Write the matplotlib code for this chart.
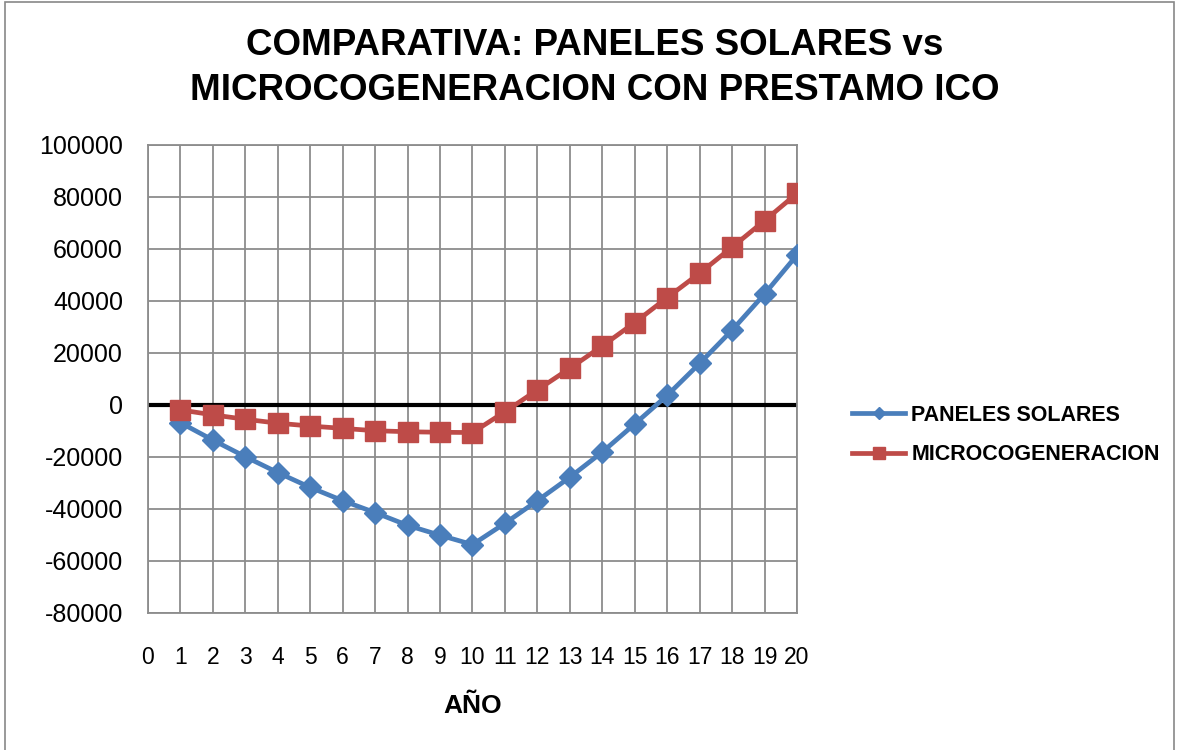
import matplotlib
matplotlib.use("Agg")
import matplotlib.pyplot as plt
from matplotlib.patches import Rectangle

plt.rcParams['font.family'] = ['Liberation Sans', 'DejaVu Sans']
plt.rcParams['axes.unicode_minus'] = False

years = list(range(1, 21))
paneles = [-6800, -13500, -19900, -26000, -31700, -36800, -41400, -46300, -50100, -53700,
           -45500, -36800, -27800, -18100, -7300, 3700, 16000, 28800, 42700, 57700]
micro = [-1900, -3800, -5500, -7000, -8100, -9000, -9900, -10300, -10500, -10600,
         -2600, 5800, 14100, 22700, 31700, 41300, 50700, 60700, 70900, 81400]
x_ticks = list(range(0, 21))
y_ticks = list(range(-80000, 100001, 20000))

blue = '#4A7EBB'
red = '#BE4B48'

fig = plt.figure(figsize=(11.78, 7.5), dpi=100)
fig.patches.append(Rectangle((0.004, -0.01), 0.993, 1.007, transform=fig.transFigure,
                             fill=False, edgecolor='#888888', linewidth=1.2))
ax = fig.add_axes([0.1256, 0.1827, 0.551, 0.624])

ax.set_xlim(0, 20)
ax.set_ylim(-80000, 100000)
ax.set_xticks(x_ticks)
ax.set_yticks(y_ticks)
ax.grid(True, color='#8c8c8c', linewidth=1.3)
ax.set_axisbelow(True)
for s in ax.spines.values():
    s.set_color('#8c8c8c')
    s.set_linewidth(1.3)
ax.axhline(0, color='black', linewidth=3, zorder=2)

ax.plot(years, paneles, color=blue, linewidth=3.4, marker='D', markersize=11,
        markerfacecolor=blue, markeredgecolor=blue, label='PANELES SOLARES', zorder=3)
ax.plot(years, micro, color=red, linewidth=3.4, marker='s', markersize=14,
        markerfacecolor=red, markeredgecolor=red, label='MICROCOGENERACION', zorder=4)

ax.tick_params(axis='both', length=0)
ax.tick_params(axis='y', pad=18, labelsize=18)
ax.tick_params(axis='x', pad=24, labelsize=16.5)
ax.set_xlabel('AÑO', fontsize=19, fontweight='bold', labelpad=18)

fig.text(0.505, 0.909, 'COMPARATIVA: PANELES SOLARES vs\nMICROCOGENERACION CON PRESTAMO ICO',
         ha='center', va='center', fontsize=26.5, fontweight='bold', linespacing=1.36)

leg = ax.legend(loc='center left', bbox_to_anchor=(1.085, 0.38), frameon=False,
                prop={'size': 15.5, 'weight': 'bold'}, handlelength=2.45, labelspacing=0.85,
                handletextpad=0.3, markerscale=0.6, borderpad=0, borderaxespad=0)

fig.savefig('out.png', dpi=100)
